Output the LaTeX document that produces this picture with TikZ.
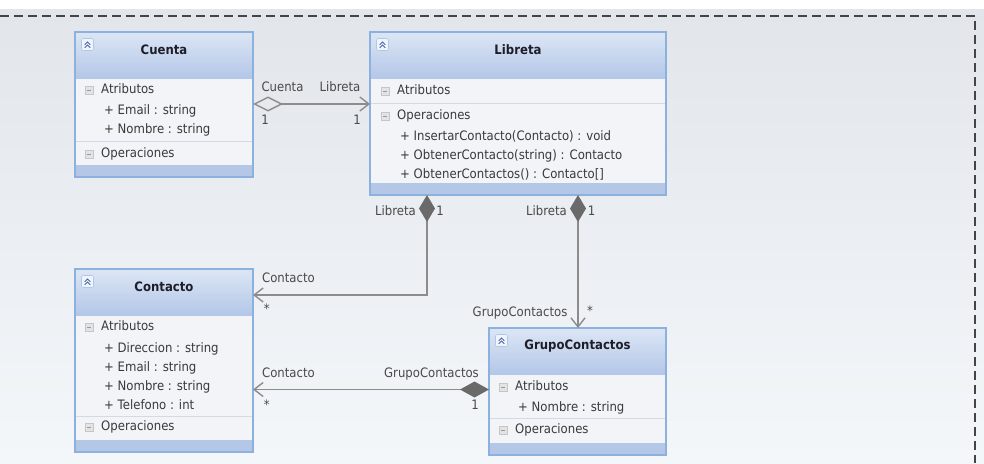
\documentclass[tikz,border=0pt]{standalone}
\usepackage{fontspec}
\setmainfont{DejaVu Sans}[FakeStretch=0.9]
\usetikzlibrary{arrows.meta}
\definecolor{bgtop}{HTML}{E2E5EA}
\definecolor{bgbot}{HTML}{F4F7FA}
\definecolor{hdtop}{HTML}{DCE6F5}
\definecolor{hdbot}{HTML}{B4C7E8}
\definecolor{bodycol}{HTML}{F2F4F7}
\definecolor{bandcol}{HTML}{B5C7E6}
\definecolor{bordercol}{HTML}{8DB1DF}
\definecolor{sepcol}{HTML}{D3DAE4}
\definecolor{txtcol}{HTML}{3A3A3A}
\definecolor{lblcol}{HTML}{4A4A4A}
\definecolor{titlecol}{HTML}{1E1E28}
\definecolor{conncol}{HTML}{8C8C8C}
\definecolor{diamcol}{HTML}{6A6A6A}
\definecolor{chevcol}{HTML}{4A68B0}
\definecolor{dashcol}{HTML}{444444}

\newcommand\classbox[6]{%
  \node[clsbody, minimum width=#4pt, minimum height=#5pt, anchor=north west] (#1) at (#2,#3) {};
  \shade[top color=hdtop, bottom color=hdbot] (#1.north west) rectangle ([yshift=-46pt]#1.north east);
  \fill[bandcol] ([yshift=12pt]#1.south west) rectangle (#1.south east);
  \draw[clsborder] (#1.north west) rectangle (#1.south east);
  \node[clstitle] (#1-title) at ([yshift=-18pt]#1.north) {#6};
  \node[colicon] (#1-icon) at ([xshift=12.5pt,yshift=-12.5pt]#1.north west) {};
  \draw[chev] ([xshift=-2.8pt,yshift=-0.3pt]#1-icon.center) -- ([yshift=2.5pt]#1-icon.center) -- ([xshift=2.8pt,yshift=-0.3pt]#1-icon.center);
  \draw[chev] ([xshift=-2.8pt,yshift=-3.3pt]#1-icon.center) -- ([yshift=-0.5pt]#1-icon.center) -- ([xshift=2.8pt,yshift=-3.3pt]#1-icon.center);
}
\newcommand\minusicon[3]{%
  \node[minusbox] (#1) at (#2,#3) {};
  \draw[minusdash] ([xshift=-2pt]#1.center) -- ([xshift=2pt]#1.center);
}
\newcommand\rowtext[4]{\node[rowtxt] (#1) at (#2,#3) {#4};}
\newcommand\sepline[4]{\draw[sepcol, line width=1pt] (#1,#3) -- (#2,#3);}

\begin{document}
\begin{tikzpicture}[x=1pt,y=-1pt,
  clsbody/.style={rectangle, fill=bodycol, inner sep=0pt, outer sep=0pt},
  clsborder/.style={draw=bordercol, line width=1.5pt},
  clstitle/.style={font=\fontsize{13}{15}\selectfont\bfseries, text=titlecol, inner sep=0pt},
  colicon/.style={rectangle, rounded corners=2pt, minimum size=12pt, inner sep=0pt, fill=white!60!hdtop, draw=bordercol!70, line width=0.6pt},
  chev/.style={draw=chevcol, line width=1pt},
  minusbox/.style={rectangle, minimum size=8pt, inner sep=0pt, fill=gray!22, draw=gray!45, line width=0.5pt},
  minusdash/.style={draw=gray!80, line width=0.9pt},
  rowtxt/.style={anchor=west, inner sep=0pt, text=txtcol, font=\fontsize{13}{15}\selectfont, text height=9.5pt, text depth=2pt},
  lbl/.style={inner sep=0pt, text=lblcol, font=\fontsize{13}{15}\selectfont, text height=9.5pt, text depth=2pt},
  conn/.style={draw=conncol, line width=1.4pt},
  opentip/.style={-{Straight Barb[length=9pt,width=14pt]}},
  dashline/.style={draw=dashcol, line width=1.2pt, dash pattern=on 9pt off 5pt}
]
\useasboundingbox (0,0) rectangle (984,463);
\fill[white] (0,0) rectangle (984,9);
\shade[top color=bgtop, bottom color=bgbot] (0,9) rectangle (984,463);
\draw[dashline] (0,16) -- (975,16) -- (975,463);

% ---------- Cuenta ----------
\classbox{Cuenta}{75}{32}{178}{145}{Cuenta}
\minusicon{cMa}{89}{90}
\rowtext{cA}{101}{90}{Atributos}
\rowtext{cA1}{104}{111}{+ Email : string}
\rowtext{cA2}{104}{130}{+ Nombre : string}
\sepline{76}{252}{141}{}
\minusicon{cMo}{89}{154}
\rowtext{cO}{101}{154}{Operaciones}

% ---------- Libreta ----------
\classbox{Libreta}{370}{32}{296}{163}{Libreta}
\minusicon{lMa}{385}{91}
\rowtext{lA}{397}{91}{Atributos}
\sepline{371}{665}{103}{}
\minusicon{lMo}{385}{116}
\rowtext{lO}{397}{116}{Operaciones}
\rowtext{lO1}{400}{137}{+ InsertarContacto(Contacto) : void}
\rowtext{lO2}{400}{156}{+ ObtenerContacto(string) : Contacto}
\rowtext{lO3}{400}{175}{+ ObtenerContactos() : Contacto[]}

% ---------- Contacto ----------
\classbox{Contacto}{75}{269}{178}{183}{Contacto}
\minusicon{tMa}{89}{327}
\rowtext{tA}{101}{327}{Atributos}
\rowtext{tA1}{104}{349}{+ Direccion : string}
\rowtext{tA2}{104}{368}{+ Email : string}
\rowtext{tA3}{104}{387}{+ Nombre : string}
\rowtext{tA4}{104}{406}{+ Telefono : int}
\sepline{76}{252}{416}{}
\minusicon{tMo}{89}{427}
\rowtext{tO}{101}{427}{Operaciones}

% ---------- GrupoContactos ----------
\classbox{GrupoContactos}{489}{328}{177}{127}{GrupoContactos}
\minusicon{gMa}{503}{387}
\rowtext{gA}{515}{387}{Atributos}
\rowtext{gA1}{518}{408}{+ Nombre : string}
\sepline{490}{665}{418}{}
\minusicon{gMo}{503}{430}
\rowtext{gO}{515}{430}{Operaciones}

% ---------- connectors ----------
\coordinate (cuR) at ([yshift=-72pt]Cuenta.north east);
\coordinate (liL) at (Libreta.west |- cuR);
\draw[conn, {Diamond[open, length=30pt, width=15pt]}-{Straight Barb[length=9pt,width=14pt]}] (cuR) -- (liL);

\coordinate (lb1) at ([xshift=57pt]Libreta.south west);
\coordinate (ctU) at ([yshift=-26pt]Contacto.north east);
\draw[conn, {Diamond[length=27pt, width=16pt, color=diamcol, fill=diamcol]}-{Straight Barb[length=9pt,width=14pt]}] (lb1) |- (ctU);

\coordinate (lb2) at ([xshift=208pt]Libreta.south west);
\coordinate (gcT) at (lb2 |- GrupoContactos.north);
\draw[conn, {Diamond[length=27pt, width=16pt, color=diamcol, fill=diamcol]}-{Straight Barb[length=9pt,width=14pt]}] (lb2) -- (gcT);

\coordinate (gcL) at ([yshift=-61.5pt]GrupoContactos.north west);
\coordinate (ctL) at (Contacto.east |- gcL);
\draw[conn, {Diamond[length=29pt, width=16pt, color=diamcol, fill=diamcol]}-{Straight Barb[length=9pt,width=14pt]}] (gcL) -- (ctL);

% ---------- labels ----------
\node[lbl] (l1) at (282.5,88) {Cuenta};
\node[lbl] (l2) at (340,88) {Libreta};
\node[lbl] (l3) at (265,121) {1};
\node[lbl] (l4) at (357,121) {1};
\node[lbl] (l5) at (395.5,212) {Libreta};
\node[lbl] (l6) at (440,212) {1};
\node[lbl] (l7) at (546.5,212) {Libreta};
\node[lbl] (l8) at (591.5,212) {1};
\node[lbl] (l9) at (288.5,279) {Contacto};
\node[lbl] (l10) at (266.7,310) {*};
\node[lbl] (l11) at (520,312.5) {GrupoContactos};
\node[lbl] (l12) at (590,312) {*};
\node[lbl] (l13) at (431.5,374) {GrupoContactos};
\node[lbl] (l14) at (475,406) {1};
\node[lbl] (l15) at (288.5,374) {Contacto};
\node[lbl] (l16) at (266.7,406) {*};
\end{tikzpicture}
\end{document}
